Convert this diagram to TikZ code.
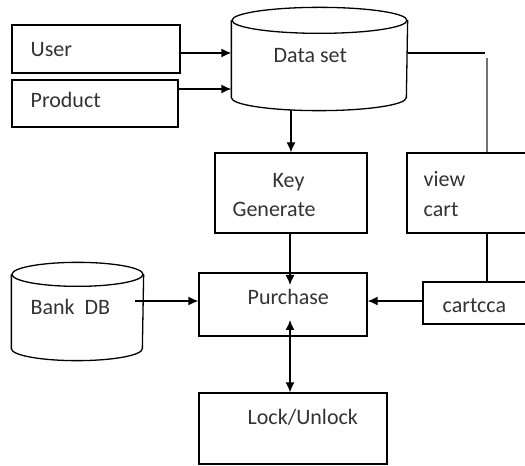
\documentclass[tikz,border=0pt]{standalone}
\usepackage{fontspec}
\setmainfont{Carlito}
\usetikzlibrary{arrows.meta}
\begin{document}
\begin{tikzpicture}[x=1pt,y=1pt,
  line width=1.3pt,
  box/.style={draw, rectangle, inner sep=0pt},
  body/.style={rectangle, inner sep=0pt},
  lbl/.style={font=\fontsize{22}{26}\selectfont, text=black!80, inner sep=0pt, anchor=base west},
  arr/.style={-{Latex[length=10pt,width=9pt]}},
  darr/.style={{Latex[length=10pt,width=9pt]}-{Latex[length=10pt,width=9pt]}}]
\useasboundingbox (0,0) rectangle (525,466);
\clip (0,0) rectangle (525,466);

% rectangular blocks
\node[box, minimum width=168pt, minimum height=48pt] (user) at (96,417) {};
\node[box, minimum width=166pt, minimum height=47pt] (product) at (95,362.5) {};
\node[box, minimum width=152pt, minimum height=80pt] (key) at (291,273) {};
\node[box, minimum width=133pt, minimum height=80pt] (view) at (473.5,273) {};
\node[box, minimum width=168pt, minimum height=63pt] (purchase) at (283,161.5) {};
\node[box, minimum width=117pt, minimum height=42pt] (cartcca) at (481.5,163) {};
\node[box, minimum width=188pt, minimum height=71pt] (lock) at (293,37.5) {};

% cylinder bodies (drawn below)
\node[body, minimum width=175pt, minimum height=76pt] (data) at (319.5,407) {};
\node[body, minimum width=131pt, minimum height=73pt] (bank) at (77.5,154.5) {};

% Data set store
\draw (data.north west) -- (data.south west)
  arc[start angle=180, end angle=360, x radius=87.5, y radius=13] -- (data.north east);
\draw (data.north) ellipse [x radius=87.5, y radius=13];

% Bank DB store
\draw (bank.north west) -- (bank.south west)
  arc[start angle=180, end angle=360, x radius=65.5, y radius=12] -- (bank.north east);
\draw (bank.north) ellipse [x radius=65.5, y radius=12];

% labels
\node[lbl] (tuser) at (30,409) {User};
\node[lbl] (tproduct) at (30,358) {Product};
\node[lbl] (tdata) at (273,403) {Data set};
\node[lbl] (tkey) at (272,278) {Key};
\node[lbl] (tgen) at (232,249) {Generate};
\node[lbl] (tview) at (423,279) {view};
\node[lbl] (tcart) at (423,249) {cart};
\node[lbl] (tpurchase) at (247,161) {Purchase};
\node[lbl] (tbank) at (30,151) {Bank\ \ DB};
\node[lbl] (tcartcca) at (442,153) {cartcca};
\node[lbl] (tlock) at (247,41) {Lock/Unlock};

% connectors
\draw[arr] ([yshift=-4pt]user.east) -- ([yshift=-4pt]user.east -| data.west);
\draw[arr] ([yshift=14.5pt]product.east) -- ([yshift=14.5pt]product.east -| data.west);
\draw[arr] ([yshift=-12pt]data.south -| key.north) -- (key.north);

\coordinate (bend) at (487,413);
\draw ([yshift=6pt]data.east) -- ([xshift=-2pt]bend);
\draw[black!55] ([yshift=-5pt]bend) -- (bend |- view.north);
\draw (bend |- view.south) -- (bend |- cartcca.north);

\coordinate (ktip) at (290,181);
\draw[arr] (ktip |- key.south) -- (ktip);

\coordinate (bstart) at (135,165);
\draw[arr] (bstart) -- (bstart -| purchase.west);

\draw[arr] ([yshift=2pt]cartcca.west) -- ([yshift=2pt]cartcca.west -| purchase.east);

\coordinate (ptip) at (290,146);
\draw[darr] (ptip) -- (ptip |- lock.north);
\end{tikzpicture}
\end{document}
